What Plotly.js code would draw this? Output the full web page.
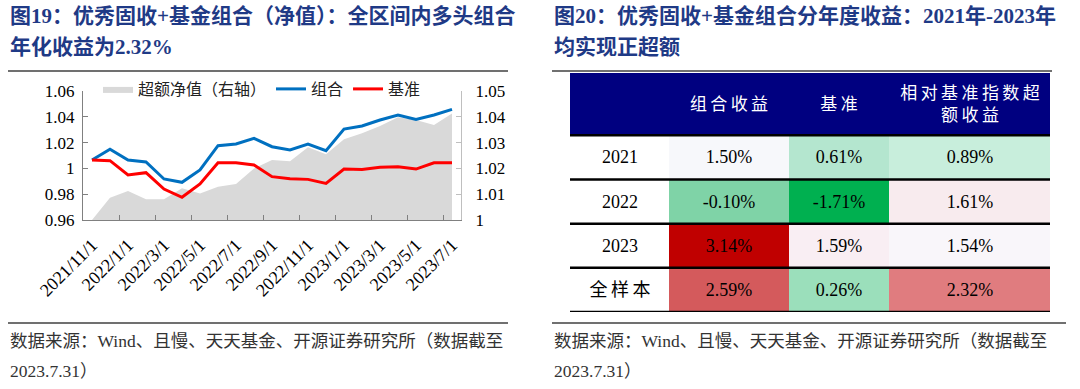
<!DOCTYPE html>
<html>
<head>
<meta charset="utf-8">
<script src="https://cdn.plot.ly/plotly-3.0.1.min.js"></script>
<style>html,body{margin:0;padding:0;background:#fff;}#chart{width:1080px;height:389px;}</style>
</head>
<body>
<div id="chart"></div>
<script>
// ---------- data ----------
const months = ['2021/11/1','2021/12/1','2022/1/1','2022/2/1','2022/3/1','2022/4/1','2022/5/1','2022/6/1','2022/7/1','2022/8/1','2022/9/1','2022/10/1','2022/11/1','2022/12/1','2023/1/1','2023/2/1','2023/3/1','2023/4/1','2023/5/1','2023/6/1','2023/7/1'];
const portfolio = [1.0065,1.0148,1.0065,1.0050,0.9918,0.9892,0.9988,1.0176,1.0189,1.0233,1.0168,1.0143,1.0189,1.0137,1.0305,1.0329,1.0375,1.0414,1.0380,1.0414,1.0458];
const benchmark = [1.0065,1.0060,0.9949,0.9967,0.9840,0.9776,0.9879,1.0044,1.0044,1.0026,0.9936,0.9920,0.9915,0.9884,0.9995,0.9992,1.0008,1.0013,0.9995,1.0044,1.0044];
const excessNav = [1.0000,1.0086,1.0112,1.0080,1.0080,1.0123,1.0103,1.0129,1.0140,1.0200,1.0233,1.0228,1.0282,1.0255,1.0313,1.0336,1.0364,1.0398,1.0388,1.0368,1.0413];
const seriesNames = ['超额净值（右轴）','组合','基准'];

const rowLabels = ['2021','2022','2023','全样本'];
const colHeaders = ['', '组合收益', '基准', '相对基准指数超<br>额收益'];
const portRet = [1.50, -0.10, 3.14, 2.59];
const benchRet = [0.61, -1.71, 1.59, 0.26];
const excessRet = [0.89, 1.61, 1.54, 2.32];

// ---------- styles ----------
const portFill   = ['#F7F8FB','#7FD3A7','#C00000','#D45A5C'];
const benchFill  = ['#B4E6CF','#00B050','#F9EEF3','#9BDFBB'];
const excessFill = ['#C8EEDC','#F8EBEE','#F9F6FA','#E07C7F'];
const labelFill = '#FFFFFF';
const headerFill = '#000080';

const W = 1080, H = 389;
const px = x => x / W;
const py = y => 1 - y / H;

const idx = months.map((_, i) => i);
const tickIdx = idx.filter(i => i % 2 === 0);
const tickText = tickIdx.map(i => months[i]);
const boundaryTicks = tickIdx.map(i => i - 0.5);

const serif = 'Liberation Serif, Noto Sans CJK SC, serif';
const cjk = 'Liberation Serif, Noto Sans CJK SC, sans-serif';
const isCJK = s => /[\u4e00-\u9fff]/.test(s);
const spaced = s => isCJK(s) ? s.split('<br>').map(p => Array.from(p).join('\u2009')).join('<br>') : s;
const pct = v => v.toFixed(2) + '%';

// table geometry (layout units)
const colEdges = [0, 99, 219, 319, 480];
const headerEdges = [0, 62];
const rowEdges = [62, 106, 150, 194, 238];

// body cells
const bodyText = rowLabels.map((r, i) => [spaced(r), pct(portRet[i]), pct(benchRet[i]), pct(excessRet[i])]);
const bodyFills = rowLabels.map((r, i) => [labelFill, portFill[i], benchFill[i], excessFill[i]]);
const flat = [].concat(...bodyFills);
const N = flat.length;
const bodyZ = bodyFills.map((row, i) => row.map((c, j) => i * row.length + j));
const bodyScale = flat.map((c, k) => [k / (N - 1), c]);

const traces = [
  {type:'scatter', mode:'lines', name: seriesNames[0], x: idx, y: excessNav,
   fill:'tozeroy', fillcolor:'#D9D9D9', line:{width:0, color:'#D9D9D9'},
   xaxis:'x', yaxis:'y', hoverinfo:'skip'},
  {type:'scatter', mode:'lines', name: seriesNames[1], x: idx, y: portfolio,
   line:{color:'#0070C0', width:3}, xaxis:'x', yaxis:'y2', hoverinfo:'skip'},
  {type:'scatter', mode:'lines', name: seriesNames[2], x: idx, y: benchmark,
   line:{color:'#FF0000', width:3}, xaxis:'x', yaxis:'y2', hoverinfo:'skip'},
  {type:'scatter', mode:'markers', x: tickIdx, y: tickIdx.map(() => null), xaxis:'x2', yaxis:'y',
   showlegend:false, hoverinfo:'skip'},
  {type:'heatmap', x: colEdges, y: headerEdges, z: [colHeaders.map(() => 0)],
   text: [colHeaders.map(spaced)], texttemplate:'%{text}',
   textfont:{family: cjk, size:17, color:'#FFFFFF'},
   colorscale:[[0, headerFill],[1, headerFill]], zmin:0, zmax:1, showscale:false,
   hoverinfo:'skip', xaxis:'x3', yaxis:'y3'},
  {type:'heatmap', x: colEdges, y: rowEdges, z: bodyZ, text: bodyText, texttemplate:'%{text}',
   textfont:{family: serif, size:18, color:'#000000'},
   colorscale: bodyScale, zmin:0, zmax:N-1, showscale:false,
   hoverinfo:'skip', xaxis:'x3', yaxis:'y3'}
];

const shapes = [];
rowEdges.forEach(y => shapes.push({type:'line', xref:'x3', yref:'y3', x0:colEdges[0], x1:colEdges[colEdges.length-1], y0:y, y1:y, line:{color:'#000', width:2.5}}));
[[8,508,71],[552,1052,71],[8,508,323],[552,1066,323]].forEach(([a,b,y]) =>
  shapes.push({type:'line', xref:'paper', yref:'paper', x0:px(a), x1:px(b), y0:py(y), y1:py(y), line:{color:'#404040', width:1.5}}));

const titleFont = {family: cjk, size:21, color:'#1F3A86', weight:'bold'};
const srcFont = {family: cjk, size:17.5, color:'#333333'};
const ann = (x, y, text, font) => ({xref:'paper', yref:'paper', x:px(x), y:py(y), xanchor:'left', yanchor:'middle', text:text, showarrow:false, font:font});
const annotations = [
  ann(8, 16, '<b>图19：优秀固收+基金组合（净值）：全区间内多头组合</b>', titleFont),
  ann(8, 47, '<b>年化收益为2.32%</b>', titleFont),
  ann(552, 16, '<b>图20：优秀固收+基金组合分年度收益：2021年-2023年</b>', titleFont),
  ann(552, 47, '<b>均实现正超额</b>', titleFont),
  ann(8, 341, '数据来源：Wind、且慢、天天基金、开源证券研究所（数据截至', srcFont),
  ann(8, 371, '2023.7.31）', srcFont),
  ann(552, 341, '数据来源：Wind、且慢、天天基金、开源证券研究所（数据截至', srcFont),
  ann(552, 371, '2023.7.31）', srcFont)
];

const tickFont = {family: serif, size:17, color:'#000'};
const layout = {
  width: W, height: H, margin:{l:0,r:0,t:0,b:0},
  paper_bgcolor:'#fff', plot_bgcolor:'rgba(0,0,0,0)',
  showlegend:true,
  legend:{orientation:'h', x:px(98), xanchor:'left', y:py(89), yanchor:'middle',
          font:{family: cjk, size:16, color:'#222'}, bgcolor:'rgba(0,0,0,0)', itemwidth:30, traceorder:'normal'},
  xaxis:{domain:[px(83), px(461)], range:[-0.5, 20.5], anchor:'y', tickvals: boundaryTicks,
         ticks:'inside', ticklen:5, tickcolor:'#808080', showticklabels:false,
         showline:true, linecolor:'#808080', linewidth:1, showgrid:false, zeroline:false},
  xaxis2:{overlaying:'x', anchor:'y', range:[-0.5, 20.5], tickvals: tickIdx, ticktext: tickText,
          ticks:'', showline:false, showgrid:false, zeroline:false, tickangle:-45,
          tickfont:{family: serif, size:18, color:'#000'}, side:'bottom', ticklabelstandoff:10},
  yaxis:{domain:[py(220), py(91)], range:[1, 1.05], dtick:0.01, side:'right', anchor:'x',
         ticks:'inside', ticklen:5, tickcolor:'#BFBFBF', showline:true, linecolor:'#BFBFBF', linewidth:1,
         showgrid:false, zeroline:false, tickfont: tickFont, ticklabelstandoff:10},
  yaxis2:{overlaying:'y', side:'left', anchor:'x', range:[0.96, 1.06], dtick:0.02,
          ticks:'inside', ticklen:5, tickcolor:'#808080', showline:true, linecolor:'#808080', linewidth:1,
          showgrid:false, zeroline:false, tickfont: tickFont, ticklabelstandoff:4},
  xaxis3:{domain:[px(570), px(1050)], range:[0, 480], anchor:'y3', visible:false},
  yaxis3:{domain:[py(312), py(73)], range:[238, 0], anchor:'x3', visible:false},
  shapes: shapes,
  annotations: annotations
};

Plotly.newPlot('chart', traces, layout, {displayModeBar:false, staticPlot:true});
</script>
</body>
</html>
